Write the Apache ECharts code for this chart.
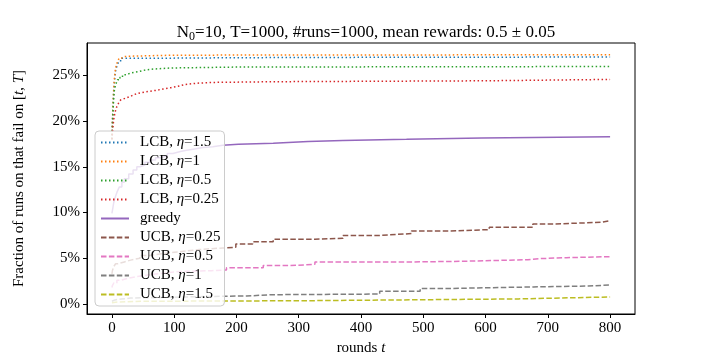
<!DOCTYPE html>
<html>
<head>
<meta charset="utf-8">
<script src="https://cdn.jsdelivr.net/npm/echarts@6/dist/echarts.min.js"></script>
<style>
  html, body { margin: 0; padding: 0; background: #fff; }
  #chart { width: 706px; height: 353px; }
</style>
</head>
<body>
<div id="chart"></div>
<script>
  // tick values
  const xTicks = [0, 100, 200, 300, 400, 500, 600, 700, 800]
  const yTicks = [0, 5, 10, 15, 20, 25]

  // series: [round t, percent of runs]
  const lcb15 = [[0, 18.0], [1, 20.1], [2, 22.0], [3, 23.4], [4, 24.3], [5, 25.0], [6, 25.5], [8, 26.0], [10, 26.35], [12, 26.6], [16, 26.85], [40, 26.9], [150, 26.95], [300, 27.0], [800, 27.0]]
  const lcb1 = [[0, 18.0], [1, 20.3], [2, 22.2], [3, 23.6], [4, 24.6], [5, 25.3], [6, 25.8], [8, 26.3], [10, 26.65], [12, 26.9], [16, 27.05], [20, 27.1], [35, 27.2], [100, 27.25], [800, 27.25]]
  const lcb05 = [[0, 18.0], [1, 19.8], [2, 21.5], [3, 22.6], [4, 23.4], [6, 24.0], [9, 24.5], [13, 24.8], [17, 25.05], [23, 25.25], [30, 25.4], [43, 25.6], [55, 25.7], [70, 25.8], [96, 25.9], [200, 25.96], [800, 25.96]]
  const lcb025 = [[0, 18.0], [1, 18.8], [2, 19.6], [3, 20.2], [4, 20.6], [6, 21.2], [8, 21.6], [11, 22.0], [14, 22.3], [17, 22.5], [22, 22.7], [30, 22.9], [36, 23.05], [43, 23.2], [55, 23.35], [70, 23.5], [82, 23.65], [95, 23.8], [106, 24.0], [118, 24.15], [140, 24.22], [161, 24.3], [263, 24.4], [602, 24.55], [800, 24.55]]
  const greedy = [[0, 9.9], [1, 10.3], [2, 10.7], [3, 11.1], [4, 11.4], [6, 11.8], [8, 12.2], [10, 12.5], [12, 12.8], [16, 13.3], [20, 13.7], [27, 14.2], [34, 14.66], [40, 15.0], [45, 15.2], [53, 15.5], [61, 15.75], [70, 16.0], [80, 16.2], [89, 16.45], [98, 16.66], [110, 16.8], [120, 16.95], [133, 17.1], [146, 17.2], [162, 17.35], [178, 17.45], [203, 17.58], [259, 17.76], [315, 17.88], [371, 18.0], [473, 18.16], [594, 18.27], [800, 18.27]]
  const ucb025 = [[0, 3.3], [1, 3.7], [3, 4.1], [6, 4.4], [10, 4.6], [20, 4.8], [30, 5.0], [45, 5.3], [60, 5.5], [80, 5.65], [100, 5.8], [120, 5.95], [140, 6.05], [160, 6.12], [178, 6.2], [199, 6.56], [226, 6.8], [259, 7.08], [326, 7.19], [371, 7.5], [430, 7.7], [481, 7.99], [543, 8.13], [606, 8.4], [676, 8.75], [712, 8.94], [787, 9.11], [800, 9.11]]
  const ucb05 = [[0, 1.8], [1, 2.05], [3, 2.3], [8, 2.6], [15, 2.8], [25, 3.0], [40, 3.2], [60, 3.35], [80, 3.5], [100, 3.58], [120, 3.65], [160, 3.72], [184, 3.97], [243, 4.2], [286, 4.34], [326, 4.6], [484, 4.67], [559, 4.76], [618, 4.85], [668, 4.96], [687, 5.07], [730, 5.18], [800, 5.18]]
  const ucb1 = [[0, 0.3], [2, 0.45], [5, 0.55], [15, 0.65], [30, 0.75], [100, 0.85], [178, 0.88], [216, 1.02], [259, 1.09], [430, 1.39], [495, 1.71], [548, 1.87], [677, 1.97], [765, 2.08], [800, 2.08]]
  const ucb15 = [[0, 0.15], [3, 0.22], [10, 0.3], [50, 0.36], [307, 0.47], [500, 0.56], [653, 0.66], [722, 0.77], [800, 0.77]]

  const serif = 'Liberation Serif'
  const dotted = [1.5, 2.5]
  const dashed = [5.5, 2.4]

  const makeSeries = (name, data, color, dash) => ({
    name: name,
    type: 'line',
    data: data,
    step: 'end',
    symbol: 'none',
    lineStyle: { color: color, width: 1.5, type: dash },
    itemStyle: { color: color }
  })

  const italic = { fontFamily: serif, fontSize: 15, fontStyle: 'italic', color: '#000' }

  const chart = echarts.init(document.getElementById('chart'))
  chart.setOption({
    animation: false,
    backgroundColor: '#fff',
    title: {
      text: '{a|N}{s|0}{a|=10, T=1000, #runs=1000, mean rewards: 0.5 ± 0.05}',
      left: 361,
      top: 18,
      textAlign: 'center',
      textStyle: {
        fontWeight: 'normal',
        rich: {
          a: { fontFamily: serif, fontSize: 17, fontWeight: 'normal', color: '#000', lineHeight: 20 },
          s: { fontFamily: serif, fontSize: 12, fontWeight: 'normal', color: '#000', lineHeight: 12, verticalAlign: 'bottom' }
        }
      }
    },
    grid: { left: 87, right: 71, top: 43, bottom: 39, outerBoundsMode: 'none', show: true, borderColor: '#000', borderWidth: 1 },
    legend: {
      orient: 'vertical',
      left: 95,
      top: 131,
      padding: [4, 4, 4, 5],
      itemWidth: 28,
      itemHeight: 10,
      itemGap: 4,
      backgroundColor: 'rgba(255,255,255,0.8)',
      borderColor: '#cccccc',
      borderWidth: 1,
      borderRadius: 4,
      itemStyle: { color: 'rgba(0,0,0,0)', borderWidth: 0, opacity: 0 },
      formatter: n => n.replace('η', '{i|η}'),
      textStyle: {
        fontFamily: serif,
        fontSize: 15,
        lineHeight: 14,
        color: '#000',
        padding: [0, 0, 0, 6],
        rich: { i: Object.assign({ lineHeight: 14 }, italic) }
      }
    },
    xAxis: {
      type: 'value',
      min: -40,
      max: 840,
      name: 'rounds {i|t}',
      nameLocation: 'middle',
      nameGap: 25,
      nameTextStyle: { fontFamily: serif, fontSize: 15, color: '#000', rich: { i: italic } },
      splitLine: { show: false },
      axisLine: { show: true, onZero: false, lineStyle: { color: '#000', width: 1 } },
      axisTick: { show: true, length: 4, customValues: xTicks, lineStyle: { color: '#000' } },
      axisLabel: { customValues: xTicks, fontFamily: serif, fontSize: 15, color: '#000', margin: 7 }
    },
    yAxis: {
      type: 'value',
      min: -1.09,
      max: 28.53,
      name: 'Fraction of runs on that fail on [{i|t}, {i|T}]',
      nameLocation: 'middle',
      nameRotate: 90,
      nameGap: 60,
      nameTextStyle: { fontFamily: serif, fontSize: 15, color: '#000', rich: { i: italic } },
      splitLine: { show: false },
      axisLine: { show: true, onZero: false, lineStyle: { color: '#000', width: 1 } },
      axisTick: { show: true, length: 4, customValues: yTicks, lineStyle: { color: '#000' } },
      axisLabel: { customValues: yTicks, fontFamily: serif, fontSize: 15, color: '#000', margin: 7, formatter: v => v + '%' }
    },
    series: [
      makeSeries('LCB, η=1.5', lcb15, '#1f77b4', dotted),
      makeSeries('LCB, η=1', lcb1, '#ff7f0e', dotted),
      makeSeries('LCB, η=0.5', lcb05, '#2ca02c', dotted),
      makeSeries('LCB, η=0.25', lcb025, '#d62728', dotted),
      makeSeries('greedy', greedy, '#9467bd', 'solid'),
      makeSeries('UCB, η=0.25', ucb025, '#8c564b', dashed),
      makeSeries('UCB, η=0.5', ucb05, '#e377c2', dashed),
      makeSeries('UCB, η=1', ucb1, '#7f7f7f', dashed),
      makeSeries('UCB, η=1.5', ucb15, '#bcbd22', dashed)
    ]
  })
</script>
</body>
</html>
